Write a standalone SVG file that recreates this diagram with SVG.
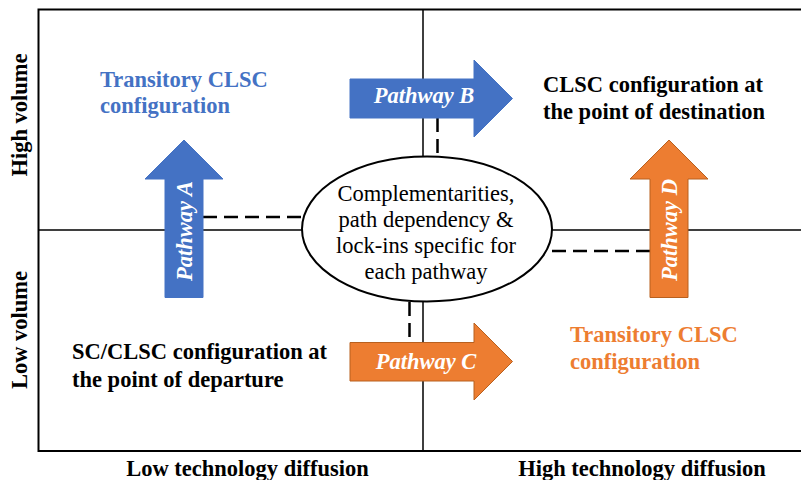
<svg xmlns="http://www.w3.org/2000/svg" width="801" height="480" viewBox="0 0 801 480">
<style>
text{font-family:"Liberation Serif","Times New Roman",serif;font-size:22.5px}
.b{font-weight:bold}
.lbl{font-weight:bold;font-style:italic;fill:#fff;text-anchor:middle}
.blue{fill:#4472C4}
.orange{fill:#ED7D31}
.ab{fill:#4472C4;stroke:#4472C4;stroke-width:1}
.ao{fill:#ED7D31;stroke:#B8601F;stroke-width:1}
.dash{stroke:#000;stroke-width:2.5;stroke-dasharray:14 7;fill:none}
.frame{stroke:#000;fill:none}
</style>
<rect width="801" height="480" fill="#fff"/>
<g id="frame">
<path class="frame" d="M801,9.5 H38.5 V451 H801" stroke-width="2"/>
<path class="frame" d="M423,9.5 V451 M38.5,230 H801" stroke-width="1.5"/>
</g>
<g id="connectors">
<path class="dash" d="M203,217 H302"/>
<path class="dash" d="M437.5,118 V157"/>
<path class="dash" d="M552,251 H650"/>
<path class="dash" d="M409.5,302 V342.5"/>
</g>
<g id="hub">
<ellipse cx="427" cy="229" rx="125" ry="72.5" fill="#fff" stroke="#000" stroke-width="2"/>
<text x="426" y="201" text-anchor="middle">Complementarities,</text>
<text x="426" y="227" text-anchor="middle">path dependency &amp;</text>
<text x="426" y="253" text-anchor="middle">lock-ins specific for</text>
<text x="426" y="279" text-anchor="middle">each pathway</text>
</g>
<g id="pathwayA">
<polygon class="ab" points="165,297.5 165,179 145,179 184,140 223,179 203,179 203,297.5"/>
<text class="lbl" transform="translate(191.5,231) rotate(-90)">Pathway A</text>
</g>
<g id="pathwayB">
<polygon class="ab" points="350,79 474,79 474,60 512.5,98.5 474,137 474,118 350,118"/>
<text class="lbl" x="424" y="103">Pathway B</text>
</g>
<g id="pathwayC">
<polygon class="ao" points="350,342.5 474,342.5 474,323 512.5,361.5 474,400 474,381 350,381"/>
<text class="lbl" x="426" y="369">Pathway C</text>
</g>
<g id="pathwayD">
<polygon class="ao" points="650,297.5 650,179 630,179 669,140 708,179 688,179 688,297.5"/>
<text class="lbl" transform="translate(676.5,230) rotate(-90)">Pathway D</text>
</g>
<g id="transitoryBlue">
<text class="b blue" x="100" y="87">Transitory CLSC</text>
<text class="b blue" x="100" y="113">configuration</text>
</g>
<g id="destination">
<text class="b" x="543" y="92">CLSC configuration at</text>
<text class="b" x="543" y="119">the point of destination</text>
</g>
<g id="departure">
<text class="b" x="72" y="359">SC/CLSC configuration at</text>
<text class="b" x="72" y="387">the point of departure</text>
</g>
<g id="transitoryOrange">
<text class="b orange" x="570" y="341.5">Transitory CLSC</text>
<text class="b orange" x="570" y="369">configuration</text>
</g>
<g id="axes">
<text class="b" text-anchor="middle" transform="translate(26.5,115) rotate(-90)">High volume</text>
<text class="b" text-anchor="middle" transform="translate(26.5,330) rotate(-90)">Low volume</text>
<text class="b" x="247.5" y="476" text-anchor="middle">Low technology diffusion</text>
<text class="b" x="642" y="476" text-anchor="middle">High technology diffusion</text>
</g>
</svg>
